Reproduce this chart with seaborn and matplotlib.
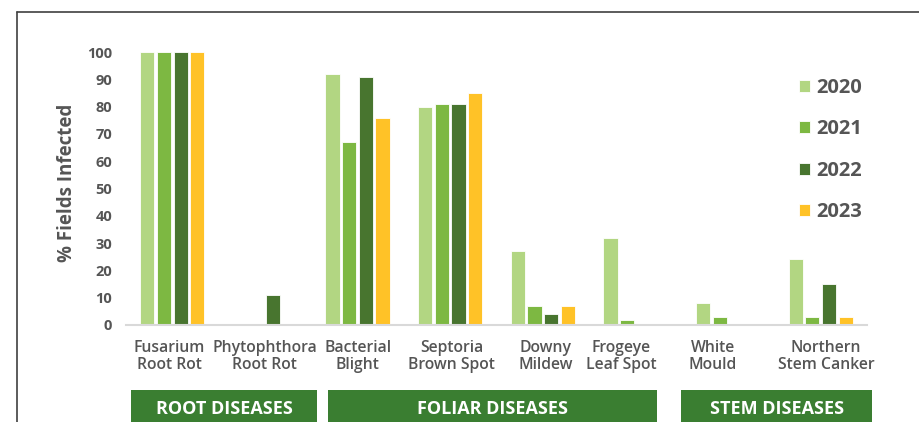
import matplotlib
matplotlib.use("Agg")
import matplotlib.pyplot as plt
from matplotlib.patches import Rectangle
from matplotlib.lines import Line2D
import matplotlib.transforms as mtransforms
import pandas as pd
import seaborn as sns

# Disease categories (x axis)
categories = [
    "Fusarium\nRoot Rot", "Phytophthora\nRoot Rot", "Bacterial\nBlight",
    "Septoria\nBrown Spot", "Downy\nMildew", "Frogeye\nLeaf Spot",
    "White\nMould", "Northern\nStem Canker",
]
years = ["2020", "2021", "2022", "2023"]

# % of fields infected per year
pct_2020 = [100, 0, 92, 80, 27, 32, 8, 24]
pct_2021 = [100, 0, 67, 81, 7, 2, 3, 3]
pct_2022 = [100, 11, 91, 81, 4, 0, 0, 15]
pct_2023 = [100, 0, 76, 85, 7, 0, 0, 3]

# Y axis ticks
y_ticks = [0, 10, 20, 30, 40, 50, 60, 70, 80, 90, 100]

# Disease groups shown as banners under the axis
group_names = ["ROOT DISEASES", "FOLIAR DISEASES", "STEM DISEASES"]

year_colors = {"2020": "#B2D682", "2021": "#7DB842", "2022": "#48752F", "2023": "#FFC227"}
banner_color = "#3A7E31"
text_gray = "#555555"

rows = []
for yr, vals in zip(years, [pct_2020, pct_2021, pct_2022, pct_2023]):
    for cat, v in zip(categories, vals):
        rows.append({"Disease": cat, "Year": yr, "Pct": v})
df = pd.DataFrame(rows)

sns.set_style("white")
plt.rcParams["font.family"] = ["Open Sans", "DejaVu Sans"]

fig = plt.figure(figsize=(9.19, 4.22), dpi=100)
ax = fig.add_axes([126 / 919, (422 - 325) / 422, (867 - 126) / 919, (325 - 52) / 422])

sns.barplot(
    data=df, x="Disease", y="Pct", hue="Year", order=categories, hue_order=years,
    palette=year_colors, saturation=1, width=0.72, gap=0.15,
    edgecolor="white", linewidth=0.6, ax=ax,
)

ax.set_ylim(0, 100)
ax.set_xlim(-0.5, len(categories) - 0.5)
ax.set_yticks(y_ticks, labels=[str(v) for v in y_ticks],
              fontweight="bold", fontsize=10.5, color=text_gray)
ax.set_xticks(range(len(categories)), labels=categories,
              fontweight="semibold", fontsize=11.3, color=text_gray, linespacing=1.05)
ax.set_xlabel("")
ax.set_ylabel("% Fields Infected", fontsize=13.5, fontweight="bold", color=text_gray, labelpad=7)
ax.yaxis.label.set_y(0.522)
ax.tick_params(axis="y", length=0, pad=10)
ax.tick_params(axis="x", length=0, pad=11)

# Small horizontal nudges (points) for a few category labels
label_nudge = [-2, 0, 0, 1, 2, -10, -11, 4]
for lbl, dx in zip(ax.get_xticklabels(), label_nudge):
    lbl.set_transform(lbl.get_transform() + mtransforms.ScaledTranslation(dx / 72, 0, fig.dpi_scale_trans))

for side in ["top", "right", "left"]:
    ax.spines[side].set_visible(False)
ax.spines["bottom"].set_color("#D9D9D9")
ax.spines["bottom"].set_linewidth(1.5)
ax.grid(False)

# Legend on the right
handles, labels = ax.get_legend_handles_labels()
leg = ax.legend(
    handles, labels, loc="upper left", bbox_to_anchor=(781 / 919, 1 - 60 / 422),
    bbox_transform=fig.transFigure, frameon=False,
    handlelength=0.55, handleheight=0.55, handletextpad=0.3, labelspacing=1.06,
    prop={"weight": "bold", "size": 14.5},
)
for t in leg.get_texts():
    t.set_color(text_gray)

# Group banners below the categories (x in data units, y in figure units)
trans = mtransforms.blended_transform_factory(ax.transData, fig.transFigure)
banner_spans = [(-0.446, 1.563), (1.681, 5.234), (5.494, 7.556)]
for name, (x0, x1) in zip(group_names, banner_spans):
    fig.patches.append(Rectangle((x0, -0.05), x1 - x0, 0.05 + (422 - 390) / 422,
                                 transform=trans, facecolor=banner_color,
                                 edgecolor="none", clip_on=False))
    fig.text((x0 + x1) / 2, (422 - 409) / 422, name, transform=trans,
             ha="center", va="center", color="white", fontsize=13, fontweight="bold")

# Outer frame lines
top_y = 1 - 12 / 422
left_x = 17 / 919
fig.add_artist(Line2D([left_x, 1], [top_y, top_y], transform=fig.transFigure, color="#3F3F3F", lw=1.2))
fig.add_artist(Line2D([left_x, left_x], [0, top_y], transform=fig.transFigure, color="#3F3F3F", lw=1.2))

fig.savefig("out.png", dpi=100, facecolor="white")
